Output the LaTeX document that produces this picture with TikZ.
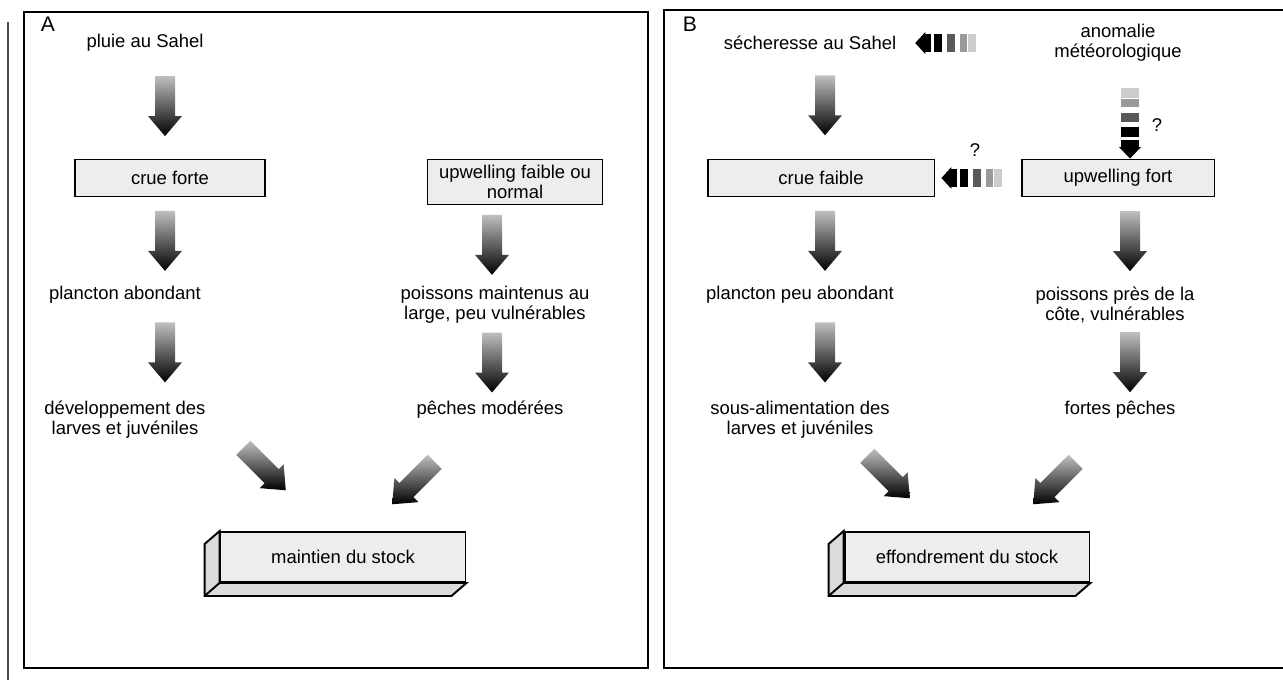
\documentclass[tikz,border=0pt]{standalone}
\usepackage{fontspec}
\setmainfont{Liberation Sans}
\usetikzlibrary{positioning,calc}

\tikzset{
  lbl/.style={font=\fontsize{10.5}{11.5}\selectfont, align=center, inner sep=1pt},
  fluxbox/.style={lbl, draw, line width=1.1pt, fill=black!7, inner sep=2pt},
  stockbox/.style={fluxbox, minimum width=4.9cm, minimum height=1cm},
  pics/bigarrow/.style={code={
    \shade[top color=black!25, middle color=black!95, bottom color=black]
      (-10,-30) -- (10,-30) -- (10,10) -- (17,10) -- (0,30) -- (-17,10) -- (-10,10) -- cycle;
  }},
  pics/dasharrow/.style={code={
    \fill (0,0) -- (-11,-10) -- (11,-10) -- cycle;
    \foreach \a/\b/\c in {10/16/black, 19/27/black, 32/40/black!65, 45/52/black!40, 53/61/black!20}
      \fill[\c] (-9,-\a) rectangle (9,-\b);
  }},
}

\begin{document}
\begin{tikzpicture}[x=0.02cm,y=-0.02cm]
  \useasboundingbox (0,0) rectangle (1283,680);
  % frames
  \draw[line width=0.6pt, black!70] (8,22) -- (8,680);
  \draw[line width=1.4pt] (24,12) rectangle (648,668);
  \draw[line width=1.4pt] (1283,10) -- (664,10) -- (664,668) -- (1283,668);

  % A
  \coordinate (colA1) at (165,0);
  \coordinate (colA2) at (492,0);
  \node[lbl, font=\fontsize{12}{13}\selectfont] (labA) at (48,24) {A};
  \node[lbl] (pluie) at (145,43) {pluie au Sahel};
  \node[fluxbox, minimum width=3.8cm, minimum height=0.74cm] (crueA) at (170,178) {crue forte};
  \node[fluxbox, minimum width=3.5cm, minimum height=0.9cm] (upA) at (515,182) {upwelling faible ou\\normal};
  \node[lbl] (planA) at (125,295) {plancton abondant};
  \node[lbl] (poisA) at (495,305) {poissons maintenus au\\large, peu vulnérables};
  \node[lbl] (devA) at (125,420) {développement des\\larves et juvéniles};
  \node[lbl] (pechA) at (490,410) {pêches modérées};
  \node[stockbox] (stockA) at (343,557) {maintien du stock};
  \draw[line width=1.1pt, fill=black!14] (stockA.north west) -- ++(-15,13) |- ($(stockA.south east)+(-15,13)$)
    -- (stockA.south east) -- (stockA.south west) -- cycle;
  \draw[line width=1.1pt] (stockA.south west) -- ++(-15,13);

  \pic at ($(pluie.south -| colA1)!.5!(crueA.north -| colA1)$) {bigarrow};
  \pic at ($(crueA.south -| colA1)!.5!(planA.north -| colA1)$) {bigarrow};
  \pic at ($(planA.south -| colA1)!.5!(devA.north -| colA1)$) {bigarrow};
  \pic at ($(upA.south -| colA2)!.5!(poisA.north -| colA2)$) {bigarrow};
  \pic at ($(poisA.south -| colA2)!.5!(pechA.north -| colA2)$) {bigarrow};
  \pic[rotate=45] at ($(stockA.north west)+(45,-62)$) {bigarrow};
  \pic[rotate=-45] at ($(stockA.north east)+(-53,-48)$) {bigarrow};

  % B
  \coordinate (colB1) at (825,0);
  \coordinate (colB2) at (1130,0);
  \node[lbl, font=\fontsize{12}{13}\selectfont] (labB) at (690,24) {B};
  \node[lbl] (sech) at (810,43) {sécheresse au Sahel};
  \node[lbl] (anom) at (1118,43) {anomalie\\météorologique};
  \node[fluxbox, minimum width=4.54cm, minimum height=0.74cm] (crueB) at (821,178) {crue faible};
  \node[fluxbox, minimum width=3.86cm, minimum height=0.74cm] (upB) at (1118,178) {upwelling fort};
  \node[lbl] (planB) at (800,295) {plancton peu abondant};
  \node[lbl] (poisB) at (1115,305) {poissons près de la\\côte, vulnérables};
  \node[lbl] (sousB) at (800,420) {sous-alimentation des\\larves et juvéniles};
  \node[lbl] (fortB) at (1120,410) {fortes pêches};
  \node[stockbox] (stockB) at (967,557) {effondrement du stock};
  \draw[line width=1.1pt, fill=black!14] (stockB.north west) -- ++(-15,13) |- ($(stockB.south east)+(-15,13)$)
    -- (stockB.south east) -- (stockB.south west) -- cycle;
  \draw[line width=1.1pt] (stockB.south west) -- ++(-15,13);
  \node[lbl] (q1) at (1157,125) {?};
  \node[lbl] (q2) at (975,150) {?};

  \pic at ($(sech.south -| colB1)!.5!(crueB.north -| colB1)$) {bigarrow};
  \pic at ($(crueB.south -| colB1)!.5!(planB.north -| colB1)$) {bigarrow};
  \pic at ($(planB.south -| colB1)!.5!(sousB.north -| colB1)$) {bigarrow};
  \pic at ($(upB.south -| colB2)!.5!(poisB.north -| colB2)$) {bigarrow};
  \pic at ($(poisB.south -| colB2)!.5!(fortB.north -| colB2)$) {bigarrow};
  \pic[rotate=45] at ($(stockB.north west)+(45,-54)$) {bigarrow};
  \pic[rotate=-45] at ($(stockB.north east)+(-36,-48)$) {bigarrow};
  \pic[rotate=-90] at ($(sech.east)+(17,0)$) {dasharrow};
  \pic[rotate=-90] at ($(crueB.east)+(6,0)$) {dasharrow};
  \pic[yscale=1.15] at (upB.north -| colB2) {dasharrow};
\end{tikzpicture}
\end{document}
